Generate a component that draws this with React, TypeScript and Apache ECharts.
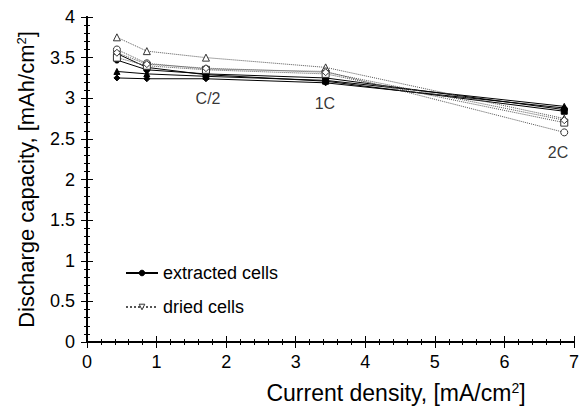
import React, { useEffect, useRef } from "react";
import * as echarts from "echarts";

const currentDensity = [0.43, 0.86, 1.71, 3.43, 6.86];

const extractedDiamond = [3.25, 3.24, 3.24, 3.19, 2.88];
const extractedTriangle = [3.33, 3.3, 3.27, 3.22, 2.9];
const extractedCircle = [3.47, 3.35, 3.3, 3.25, 2.86];
const extractedSquare = [3.55, 3.38, 3.29, 3.21, 2.84];

const driedTriangle = [3.75, 3.58, 3.5, 3.38, 2.75];
const driedCircle = [3.6, 3.43, 3.36, 3.33, 2.58];
const driedSquare = [3.5, 3.4, 3.35, 3.3, 2.7];
const driedDiamond = [3.56, 3.42, 3.37, 3.32, 2.73];

const rateLabels = [
  { text: "C/2", x: 1.74, y: 3.0 },
  { text: "1C", x: 3.42, y: 2.94 },
  { text: "2C", x: 6.77, y: 2.33 },
];

const FONT = "Liberation Sans, Arial, sans-serif";

const pairs = (ys: number[]) => currentDensity.map((x, i) => [x, ys[i]]);

const yTitleRich = {
  a: { fontSize: 22, fontFamily: FONT, color: "#000" },
  s: { fontSize: 13, fontFamily: FONT, color: "#000", verticalAlign: "top", padding: [0, 0, 10, 0] },
};
const xTitleRich = {
  a: { fontSize: 23, fontFamily: FONT, color: "#000" },
  s: { fontSize: 14, fontFamily: FONT, color: "#000", verticalAlign: "top", padding: [0, 0, 10, 0] },
};

export default function App() {
  const ref = useRef<HTMLDivElement>(null);
  useEffect(() => {
    document.body.style.margin = "0";
    if (!ref.current) return;
    const chart = echarts.init(ref.current, null, { renderer: "svg" });

    const solid = (name: string, symbol: string, ys: number[]) => ({
      type: "line",
      name,
      data: pairs(ys),
      symbol,
      symbolSize: 6,
      showSymbol: true,
      lineStyle: { color: "#000", width: 1, type: "solid" },
      itemStyle: { color: "#000", borderColor: "#000", borderWidth: 1 },
      z: 3,
    });
    const dotted = (name: string, symbol: string, ys: number[]) => ({
      type: "line",
      name,
      data: pairs(ys),
      symbol,
      symbolSize: 7,
      showSymbol: true,
      lineStyle: { color: "#555", width: 1, type: "dotted" },
      itemStyle: { color: "#fff", borderColor: "#333", borderWidth: 1 },
      z: 4,
    });

    const annotations = {
      type: "scatter",
      name: "rates",
      data: rateLabels.map((r) => [r.x, r.y]),
      symbolSize: 0,
      label: {
        show: true,
        formatter: (p: any) => rateLabels[p.dataIndex].text,
        position: "inside",
        color: "#000",
        fontSize: 16,
        fontFamily: FONT,
      },
      silent: true,
      z: 5,
    };

    const axisCommon = {
      axisLine: { show: true, lineStyle: { color: "#000", width: 2 } },
      axisTick: { show: true, inside: true, length: 6, lineStyle: { color: "#000", width: 1 } },
      minorTick: { show: true, splitNumber: 5, length: 3, lineStyle: { color: "#000", width: 1 } },
      splitLine: { show: false },
    };

    chart.setOption({
      animation: false,
      backgroundColor: "#fff",
      grid: { left: 87, right: 8, top: 17, bottom: 66 },
      legend: {
        orient: "vertical",
        left: 120,
        top: 259,
        itemGap: 16,
        itemWidth: 32,
        itemHeight: 7,
        textStyle: { fontSize: 18, fontFamily: FONT, color: "#000" },
        data: [
          { name: "extracted cells", itemStyle: { color: "#000", borderColor: "#000", borderWidth: 1 } },
          { name: "dried cells", itemStyle: { color: "#fff", borderColor: "#333", borderWidth: 1 } },
        ],
      },
      graphic: [
        {
          type: "text",
          x: 396,
          y: 393,
          style: {
            text: "{a|Current density, [mA/cm}{s|2}{a|]}",
            rich: xTitleRich,
            align: "center",
            verticalAlign: "middle",
          },
        },
      ],
      xAxis: [
        {
          type: "value",
          min: 0,
          max: 7,
          interval: 1,
          ...axisCommon,
          axisLabel: { fontSize: 18, fontFamily: FONT, color: "#000", margin: 11 },
        },
        {
          type: "value",
          position: "top",
          min: 0,
          max: 7,
          interval: 1,
          ...axisCommon,
          axisLabel: { show: false },
        },
      ],
      yAxis: [
        {
          type: "value",
          min: 0,
          max: 4,
          interval: 0.5,
          ...axisCommon,
          axisLabel: { fontSize: 18, fontFamily: FONT, color: "#000", margin: 12 },
          name: "{a|Discharge capacity, [mAh/cm}{s|2}{a|]}",
          nameLocation: "middle",
          nameGap: 49,
          nameTextStyle: { rich: yTitleRich },
        },
        {
          type: "value",
          position: "right",
          min: 0,
          max: 4,
          interval: 0.5,
          ...axisCommon,
          axisLabel: { show: false },
        },
      ],
      series: [
        solid("extracted cells", "circle", []),
        { ...dotted("dried cells", "triangle", []), symbolRotate: 180 },
        solid("e-diamond", "diamond", extractedDiamond),
        solid("e-triangle", "triangle", extractedTriangle),
        solid("e-circle", "circle", extractedCircle),
        solid("e-square", "rect", extractedSquare),
        dotted("d-triangle", "triangle", driedTriangle),
        dotted("d-circle", "circle", driedCircle),
        dotted("d-square", "rect", driedSquare),
        dotted("d-diamond", "diamond", driedDiamond),
        annotations,
      ],
    });
    return () => chart.dispose();
  }, []);
  return <div ref={ref} style={{ width: 582, height: 408 }} />;
}
